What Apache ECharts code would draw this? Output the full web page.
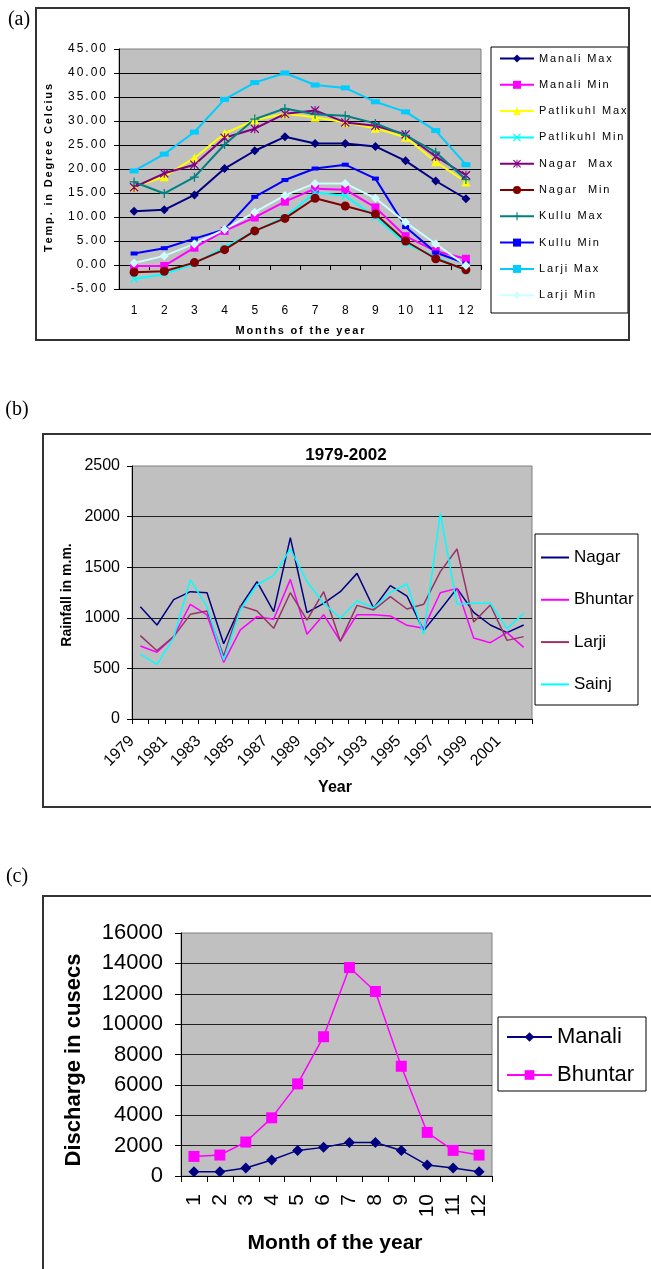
<!DOCTYPE html>
<html>
<head>
<meta charset="utf-8">
<script src="https://cdn.jsdelivr.net/npm/echarts@6/dist/echarts.min.js"></script>
<style>
  html, body { margin: 0; padding: 0; background: #ffffff; }
  .panel { position: absolute; left: 0; top: 0; width: 651px; height: 1269px; }
</style>
</head>
<body>
<div id="tempChart" class="panel"></div>
<div id="rainChart" class="panel"></div>
<div id="flowChart" class="panel"></div>
<script>
// ---- (a) monthly temperature, degree Celsius ----
const months = ['1', '2', '3', '4', '5', '6', '7', '8', '9', '10', '11', '12'];
const manaliMax    = [11.2, 11.5, 14.6, 20.1, 23.8, 26.7, 25.3, 25.3, 24.7, 21.7, 17.5, 13.8];
const manaliMin    = [-0.2, -0.2, 3.6, 7.1, 9.9, 13.2, 15.9, 15.7, 12.0, 6.0, 2.9, 1.3];
const patlikuhlMax = [16.3, 18.4, 22.3, 27.4, 30.2, 31.5, 30.8, 29.7, 28.5, 26.6, 21.5, 17.3];
const patlikuhlMin = [-2.9, -1.9, 0.3, 3.7, 7.0, 10.0, 15.1, 14.4, 10.0, 4.5, 1.7, -1.2];
const nagarMax     = [16.2, 19.1, 20.9, 26.5, 28.4, 31.5, 32.2, 29.7, 29.0, 27.2, 22.6, 18.7];
const nagarMin     = [-1.5, -1.3, 0.5, 3.2, 7.1, 9.7, 13.9, 12.3, 10.6, 5.0, 1.3, -1.0];
const kulluMax     = [17.3, 14.9, 18.3, 25.1, 30.4, 32.6, 31.4, 31.1, 29.5, 27.0, 23.5, 17.8];
const kulluMin     = [2.4, 3.5, 5.5, 7.4, 14.2, 17.7, 20.1, 20.9, 18.0, 7.9, 2.6, 0.3];
const larjiMax     = [19.6, 23.1, 27.7, 34.5, 38.0, 40.0, 37.5, 36.9, 34.0, 31.9, 28.0, 20.9];
const larjiMin     = [0.4, 1.9, 4.4, 7.4, 11.0, 14.5, 17.0, 17.0, 13.9, 8.9, 4.4, -0.1];

// ---- (b) annual rainfall, mm ----
const years = ['1979', '1980', '1981', '1982', '1983', '1984', '1985', '1986', '1987', '1988', '1989', '1990',
               '1991', '1992', '1993', '1994', '1995', '1996', '1997', '1998', '1999', '2000', '2001', '2002'];
const rainNagar   = [1110, 929, 1179, 1258, 1248, 744, 1110, 1357, 1061, 1792, 1051, 1143,
                     1258, 1439, 1094, 1318, 1215, 873, 1080, 1291, 1054, 929, 853, 929];
const rainBhuntar = [721, 659, 814, 1133, 1028, 560, 880, 1011, 985, 1380, 837, 1031,
                     771, 1031, 1031, 1018, 926, 896, 1248, 1291, 800, 754, 853, 708];
const rainLarji   = [824, 675, 814, 1034, 1067, 623, 1120, 1067, 896, 1248, 978, 1258,
                     768, 1123, 1077, 1209, 1087, 1133, 1456, 1680, 958, 1127, 777, 814];
const rainSainj   = [642, 540, 804, 1374, 1110, 583, 1077, 1324, 1420, 1680, 1357, 1143,
                     995, 1166, 1100, 1252, 1334, 840, 2032, 1133, 1143, 1143, 893, 1044];

// ---- (c) monthly discharge, cusecs ----
const dischargeManali  = [285, 285, 525, 1050, 1685, 1885, 2210, 2210, 1685, 720, 525, 285];
const dischargeBhuntar = [1290, 1380, 2235, 3830, 6065, 9170, 13725, 12150, 7225, 2870, 1685, 1380];

const SANS = '"Liberation Sans", Arial, sans-serif';
const SERIF = '"Liberation Serif", "Times New Roman", serif';

// widen small text with narrow spaces between characters
const spaced = s => String(s).split('').join('\u2006');
const plain = v => String(v);

// outline marks drawn as filled thin polygons
const symPlus  = 'path://M4.3,0H5.7V4.3H10V5.7H5.7V10H4.3V5.7H0V4.3H4.3Z';
const symCross = 'path://M0,1L1,0L5,4L9,0L10,1L6,5L10,9L9,10L5,6L1,10L0,9L4,5Z';
const symStar  = symCross + 'M4.4,0H5.6V10H4.4Z';

function frame(x, y, w, h) {
  return { type: 'rect', silent: true, shape: { x: x, y: y, width: w, height: h },
           style: { fill: 'none', stroke: '#333333', lineWidth: 2 } };
}
function box(x, y, w, h) {
  return { type: 'rect', silent: true, z: -1, shape: { x: x, y: y, width: w, height: h },
           style: { fill: '#ffffff', stroke: '#000000', lineWidth: 1 } };
}
function label(text, x, y, font, rot) {
  return { type: 'text', silent: true, x: x, y: y, rotation: rot || 0,
           style: { text: text, font: font, fill: '#000000', align: 'center', verticalAlign: 'middle' } };
}

// ================= (a) =================
function tempLine(name, data, color, symbol, size) {
  return {
    type: 'line', name: name, data: data, symbol: symbol, symbolSize: size,
    showAllSymbol: true,
    lineStyle: { color: color, width: 2 },
    itemStyle: { color: color, borderWidth: 0 }
  };
}
const tempSeries = [
  tempLine('Manali Max', manaliMax, '#000080', 'diamond', 9),
  tempLine('Manali Min', manaliMin, '#FF00FF', 'rect', 8),
  tempLine('Patlikuhl Max', patlikuhlMax, '#FFFF00', 'triangle', 9),
  tempLine('Patlikuhl Min', patlikuhlMin, '#00FFFF', symCross, 8),
  tempLine('Nagar  Max', nagarMax, '#800080', symStar, 9),
  tempLine('Nagar  Min', nagarMin, '#800000', 'circle', 9),
  tempLine('Kullu Max', kulluMax, '#008080', symPlus, 9),
  tempLine('Kullu Min', kulluMin, '#0000FF', 'rect', [7, 4]),
  tempLine('Larji Max', larjiMax, '#00CCFF', 'rect', [9, 5]),
  tempLine('Larji Min', larjiMin, '#CCFFFF', 'diamond', 9)
];

const tempChart = echarts.init(document.getElementById('tempChart'), null, { renderer: 'canvas' });
tempChart.setOption({
  animation: false,
  textStyle: { fontFamily: SANS },
  grid: { left: 119, top: 49, width: 362, height: 240, show: true,
          backgroundColor: '#C0C0C0', borderColor: '#808080', borderWidth: 1 },
  xAxis: {
    type: 'category', data: months, boundaryGap: true,
    axisLine: { lineStyle: { color: '#000000', width: 1 } },
    axisTick: { show: true, interval: 0, length: 5, lineStyle: { color: '#000000' } },
    axisLabel: { interval: 0, color: '#000000', fontSize: 12, margin: 16, formatter: spaced }
  },
  yAxis: {
    type: 'value', min: -5, max: 45, interval: 5,
    axisLine: { show: true, lineStyle: { color: '#000000', width: 1 } },
    axisTick: { show: true, length: 5, lineStyle: { color: '#000000' } },
    axisLabel: { color: '#000000', fontSize: 12, margin: 13, formatter: v => spaced(v.toFixed(2)) },
    splitLine: { show: true, showMaxLine: false, lineStyle: { color: '#000000', width: 1 } }
  },
  legend: {
    orient: 'vertical', left: 499, top: 53, padding: 0,
    itemWidth: 34, itemHeight: 10, itemGap: 15.3,
    textStyle: { fontSize: 11, color: '#000000', fontFamily: SANS },
    formatter: name => spaced(name),
    data: tempSeries.map(s => s.name)
  },
  graphic: [
    frame(36, 8, 593, 332),
    box(491, 47, 137, 266),
    label('(a)', 19, 20, '20px ' + SERIF),
    label(spaced('Temp. in Degree Celcius'), 49, 168, 'bold 11px ' + SANS, Math.PI / 2),
    label(spaced('Months of the year'), 300, 331, 'bold 11px ' + SANS)
  ],
  series: tempSeries
});

// ================= (b) =================
function rainLine(name, data, color) {
  return { type: 'line', name: name, data: data, symbol: 'none',
           lineStyle: { color: color, width: 1.5 }, itemStyle: { color: color } };
}
const rainChart = echarts.init(document.getElementById('rainChart'), null, { renderer: 'canvas' });
rainChart.setOption({
  animation: false,
  textStyle: { fontFamily: SANS },
  grid: { left: 132, top: 466, width: 400, height: 253, show: true,
          backgroundColor: '#C0C0C0', borderColor: '#808080', borderWidth: 1 },
  xAxis: {
    type: 'category', data: years, boundaryGap: true,
    axisLine: { lineStyle: { color: '#000000', width: 1 } },
    axisTick: { show: true, interval: 0, length: 5, lineStyle: { color: '#000000' } },
    axisLabel: { interval: 1, rotate: 45, color: '#000000', fontSize: 16, margin: 11, padding: [0, 12, 0, 0] }
  },
  yAxis: {
    type: 'value', min: 0, max: 2500, interval: 500,
    axisLine: { show: true, lineStyle: { color: '#000000', width: 1 } },
    axisTick: { show: true, length: 5, lineStyle: { color: '#000000' } },
    axisLabel: { color: '#000000', fontSize: 16, margin: 12, formatter: plain },
    splitLine: { show: true, showMaxLine: false, lineStyle: { color: '#222222', width: 1 } }
  },
  legend: {
    orient: 'vertical', left: 541, top: 549, padding: 0,
    icon: 'rect', itemWidth: 28, itemHeight: 2, itemGap: 25.3,
    textStyle: { fontSize: 17, color: '#000000', fontFamily: SANS },
    data: ['Nagar', 'Bhuntar', 'Larji', 'Sainj']
  },
  graphic: [
    frame(43, 434, 640, 373),
    box(535, 534, 103, 171),
    label('(b)', 17, 410, '20px ' + SERIF),
    label('1979-2002', 346, 455, 'bold 17px ' + SANS),
    label('Rainfall in m.m.', 67, 595, 'bold 14px ' + SANS, Math.PI / 2),
    label('Year', 335, 788, 'bold 16px ' + SANS)
  ],
  series: [
    rainLine('Nagar', rainNagar, '#000080'),
    rainLine('Bhuntar', rainBhuntar, '#FF00FF'),
    rainLine('Larji', rainLarji, '#993366'),
    rainLine('Sainj', rainSainj, '#00FFFF')
  ]
});

// ================= (c) =================
const flowChart = echarts.init(document.getElementById('flowChart'), null, { renderer: 'canvas' });
flowChart.setOption({
  animation: false,
  textStyle: { fontFamily: SANS },
  grid: { left: 181, top: 933, width: 311, height: 243, show: true,
          backgroundColor: '#C0C0C0', borderColor: '#808080', borderWidth: 1 },
  xAxis: {
    type: 'category', data: months, boundaryGap: true,
    axisLine: { lineStyle: { color: '#000000', width: 1 } },
    axisTick: { show: true, interval: 0, length: 6, lineStyle: { color: '#000000' } },
    axisLabel: { interval: 0, rotate: 90, color: '#000000', fontSize: 21, margin: 18 }
  },
  yAxis: {
    type: 'value', min: 0, max: 16000, interval: 2000,
    axisLine: { show: true, lineStyle: { color: '#000000', width: 1 } },
    axisTick: { show: true, length: 6, lineStyle: { color: '#000000' } },
    axisLabel: { color: '#000000', fontSize: 22, margin: 18, formatter: plain },
    splitLine: { show: true, showMaxLine: false, lineStyle: { color: '#222222', width: 1 } }
  },
  legend: {
    orient: 'vertical', left: 506, top: 1026, padding: 0,
    itemWidth: 45, itemHeight: 12, itemGap: 16,
    textStyle: { fontSize: 22, color: '#000000', fontFamily: SANS },
    data: ['Manali', 'Bhuntar']
  },
  graphic: [
    frame(43, 896, 640, 400),
    box(498, 1017, 148, 74),
    label('(c)', 17, 877, '20px ' + SERIF),
    label('Discharge in cusecs', 74, 1060, 'bold 22px ' + SANS, Math.PI / 2),
    label('Month of the year', 335, 1243, 'bold 21px ' + SANS)
  ],
  series: [
    { type: 'line', name: 'Manali', data: dischargeManali, symbol: 'diamond', symbolSize: 11,
      lineStyle: { color: '#000080', width: 1.5 }, itemStyle: { color: '#000080' } },
    { type: 'line', name: 'Bhuntar', data: dischargeBhuntar, symbol: 'rect', symbolSize: 11,
      lineStyle: { color: '#FF00FF', width: 1.5 }, itemStyle: { color: '#FF00FF' } }
  ]
});
</script>
</body>
</html>
